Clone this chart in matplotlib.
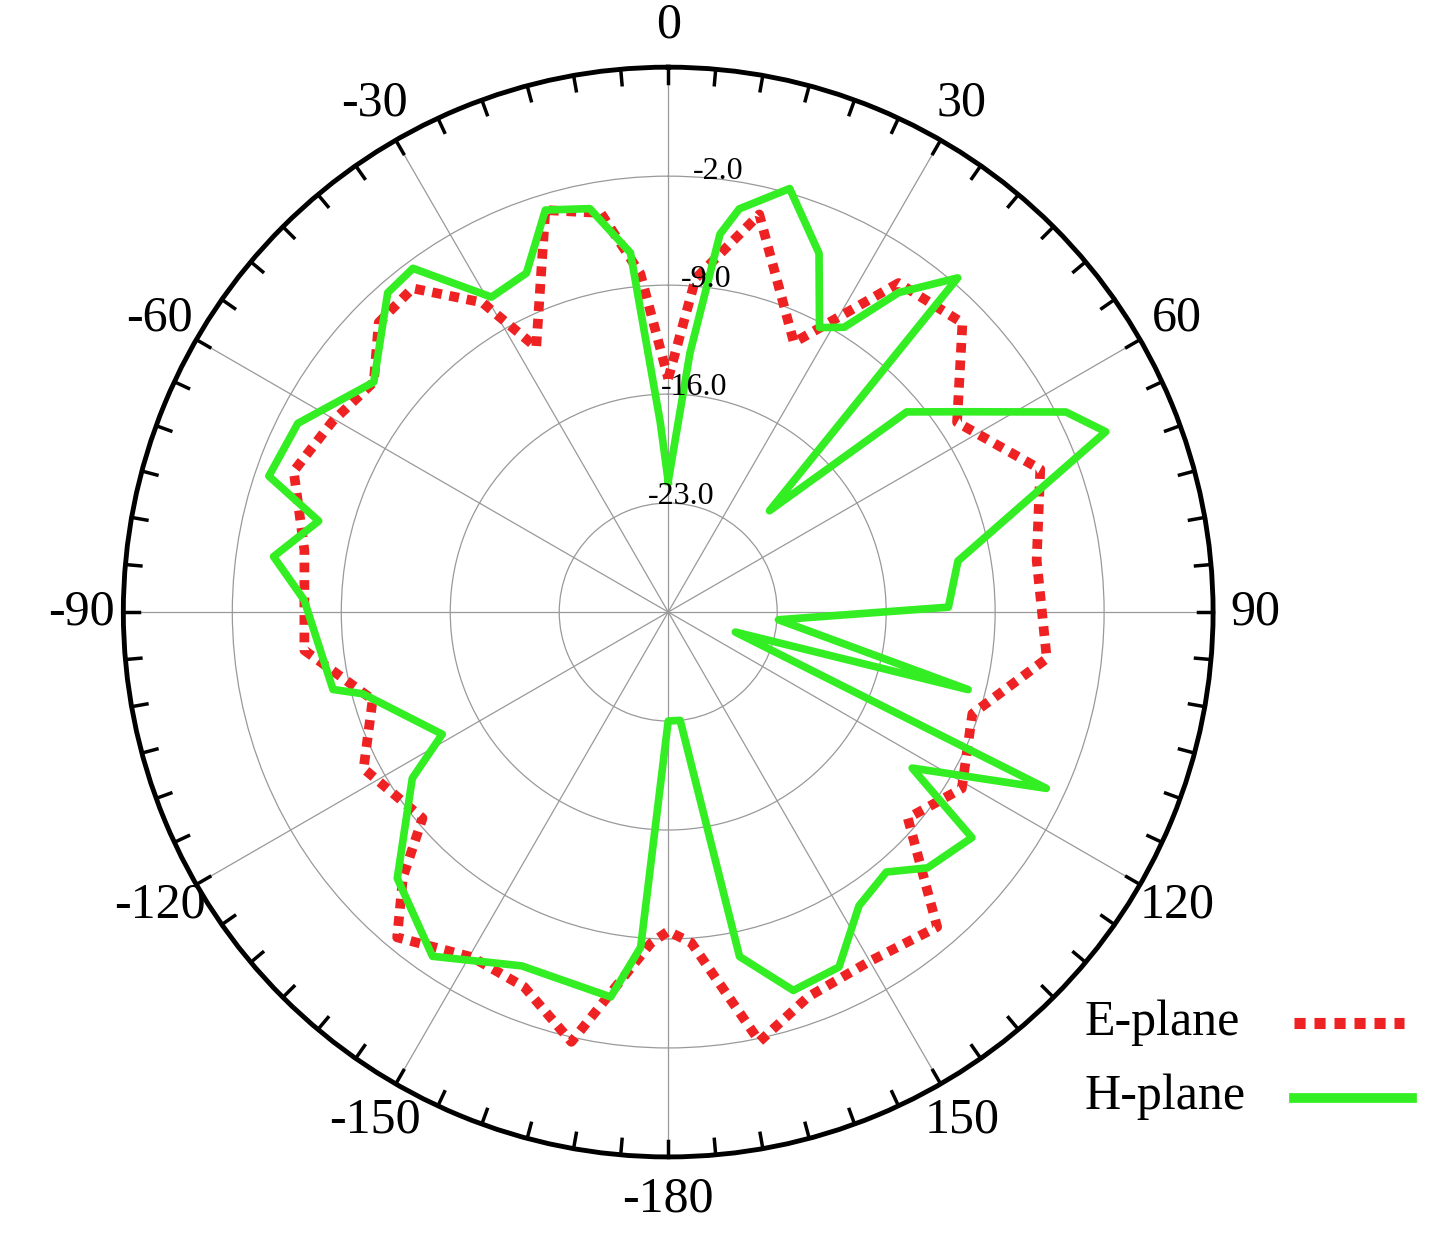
import numpy as np
import matplotlib.pyplot as plt
from matplotlib.lines import Line2D

plt.rcParams['font.family'] = ['Liberation Serif', 'DejaVu Serif']

# E-plane pattern (deg, dB)
e_ang = [0, 4.7, 12.9, 25, 35, 45.5, 56.7, 69, 82, 97, 108.5, 121, 130.7, 139.5, 150, 160, 168,
         176, 180, 183, 192.7, 201, 209.6, 219.8, 225, 230, 242.8, 253.5, 264, 279.6, 290.6,
         299.6, 308, 315, 321.7, 329, 333.5, 343, 350.4, 355.3, 360]
e_db = [-15, -8.5, -3.8, -10.9, -4.2, -3.5, -7.8, -4.4, -6.1, -5.5, -9.4, -8, -9.7, -3.4, -4.1, -3.7, -1.8,
        -8.7, -9.5, -8.7, -1.7, -4.2, -4.5, -2.8, -5.9, -9.4, -8, -10.2, -6.5, -6.3, -4.3,
        -5.2, -6, -3.7, -3.5, -6.8, -11, -3, -4, -8.2, -15]

# H-plane pattern (deg, dB)
h_ang = [0, 4.8, 7.8, 10, 16, 22.8, 28, 31.7, 35.8, 40.9, 45, 50, 55.3, 63.3, 67.6, 80, 89, 94,
         104.5, 106.6, 115, 122.6, 126.6, 134.6, 140, 147, 154.3, 161.7, 168.3, 173.7, 180,
         184.7, 188.5, 202.5, 214.4, 225.5, 237, 241.6, 255, 257, 271.9, 278, 284.6, 288.8,
         297, 308, 318.7, 323.4, 330.7, 337.3, 343, 349, 354, 357.6, 360]
h_db = [-21.6, -13.3, -5.5, -3.7, -1.7, -5, -9.3, -8.5, -4.7, -1.6, -20.8, -10, -7.4, -1.4, 0.4, -11.1, -12, -22.9,
        -10.1, -25.5, -3.2, -11.4, -5.7, -6.6, -8.2, -7.5, -4.7, -4.4, -7.4, -23, -23,
        -8.4, -5, -5.4, -3.2, -5.6, -10.4, -13.5, -9.7, -7.9, -6.6, -4.4, -6.8, -2.9,
        -3.3, -6, -2.7, -2.5, -6.8, -6.4, -3, -3.6, -6.8, -17.8, -21.6]

r_ticks = [-23.0, -16.0, -9.0, -2.0]
theta_ticks = np.arange(0, 360, 30)
theta_labels = ['0', '30', '60', '90', '120', '150', '-180', '-150', '-120', '-90', '-60', '-30']
rmin, rmax = -30, 5

fig = plt.figure(figsize=(14.33, 12.44), dpi=100)
ax = fig.add_axes([0.0858, 0.070, 0.761, 0.876], projection='polar')
ax.set_theta_zero_location('N')
ax.set_theta_direction(-1)
ax.set_ylim(rmin, rmax)
ax.set_yticks(r_ticks)
ax.set_yticklabels([])
ax.set_xticks(np.deg2rad(theta_ticks))
ax.set_xticklabels(theta_labels, fontsize=36)
ax.tick_params(axis='x', pad=20)
ax.grid(True, color='#999999', linewidth=0.9)
ax.spines['polar'].set_linewidth(3.5)

for a in np.arange(0, 360, 5):
    t = np.deg2rad(a)
    ax.plot([t, t], [rmax, rmax - 1.0], color='black', lw=2.5, clip_on=False)

for r in r_ticks:
    ax.text(np.deg2rad(6.5), r + 0.5, f'{r:.1f}', fontsize=23, ha='center', va='center')

ax.plot(np.deg2rad(e_ang), e_db, color='#ee2222', lw=7, linestyle=(0, (1, 0.8)))
ax.plot(np.deg2rad(h_ang), h_db, color='#33ee22', lw=5.5)

fig.text(0.757, 0.178, 'E-plane', fontsize=36, va='center')
fig.text(0.757, 0.118, 'H-plane', fontsize=36, va='center')
fig.add_artist(Line2D([0.903, 0.98], [0.178, 0.178], color='#ee2222', lw=8,
                      linestyle=(0, (1, 0.8))))
fig.add_artist(Line2D([0.903, 0.985], [0.117, 0.117], color='#33ee22', lw=7))

fig.savefig('out.png', dpi=100)
